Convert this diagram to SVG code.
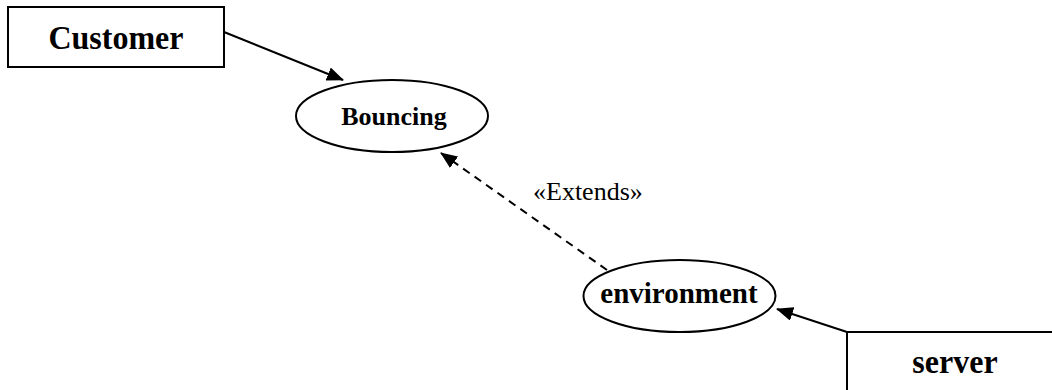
<svg xmlns="http://www.w3.org/2000/svg" width="1052" height="390" viewBox="0 0 1052 390">
<style>
.box{fill:#fff;stroke:#000;stroke-width:2}
.ell{fill:#fff;stroke:#000;stroke-width:2}
.lbl{font-family:"Liberation Serif","Times New Roman",serif;font-weight:bold;fill:#000;text-anchor:middle}
.edge{stroke:#000;stroke-width:2;fill:none}
.dash{stroke-dasharray:8,6}
.note{font-family:"Liberation Serif","Times New Roman",serif;fill:#000;font-size:26px}
</style>
<defs>
<marker id="ah" markerUnits="userSpaceOnUse" markerWidth="17" markerHeight="14" refX="16" refY="7" orient="auto">
<path d="M0,0 L17,7 L0,14 Z" fill="#000"/>
</marker>
</defs>
<rect width="1052" height="390" fill="#fff"/>
<g id="connectors">
<line class="edge" x1="224" y1="32" x2="343" y2="80" marker-end="url(#ah)"/>
<line class="edge dash" x1="607" y1="270" x2="441" y2="153" marker-end="url(#ah)"/>
<line class="edge" x1="847" y1="332" x2="777" y2="309" marker-end="url(#ah)"/>
<text class="note" x="533" y="200">«Extends»</text>
</g>
<g id="customer">
<rect class="box" x="8" y="7" width="216" height="60"/>
<text class="lbl" x="116" y="49" font-size="32" transform="translate(0,49) scale(1,1.05) translate(0,-49)">Customer</text>
</g>
<g id="bouncing">
<ellipse class="ell" cx="392" cy="116" rx="96" ry="36"/>
<text class="lbl" x="394" y="125" font-size="26">Bouncing</text>
</g>
<g id="environment">
<ellipse class="ell" cx="679.5" cy="296" rx="96" ry="36"/>
<text class="lbl" x="679" y="303" font-size="29">environment</text>
</g>
<g id="server">
<rect class="box" x="847" y="332" width="230" height="80"/>
<text class="lbl" x="955" y="373" font-size="32" transform="translate(0,373) scale(1,1.08) translate(0,-373)">server</text>
</g>
</svg>
